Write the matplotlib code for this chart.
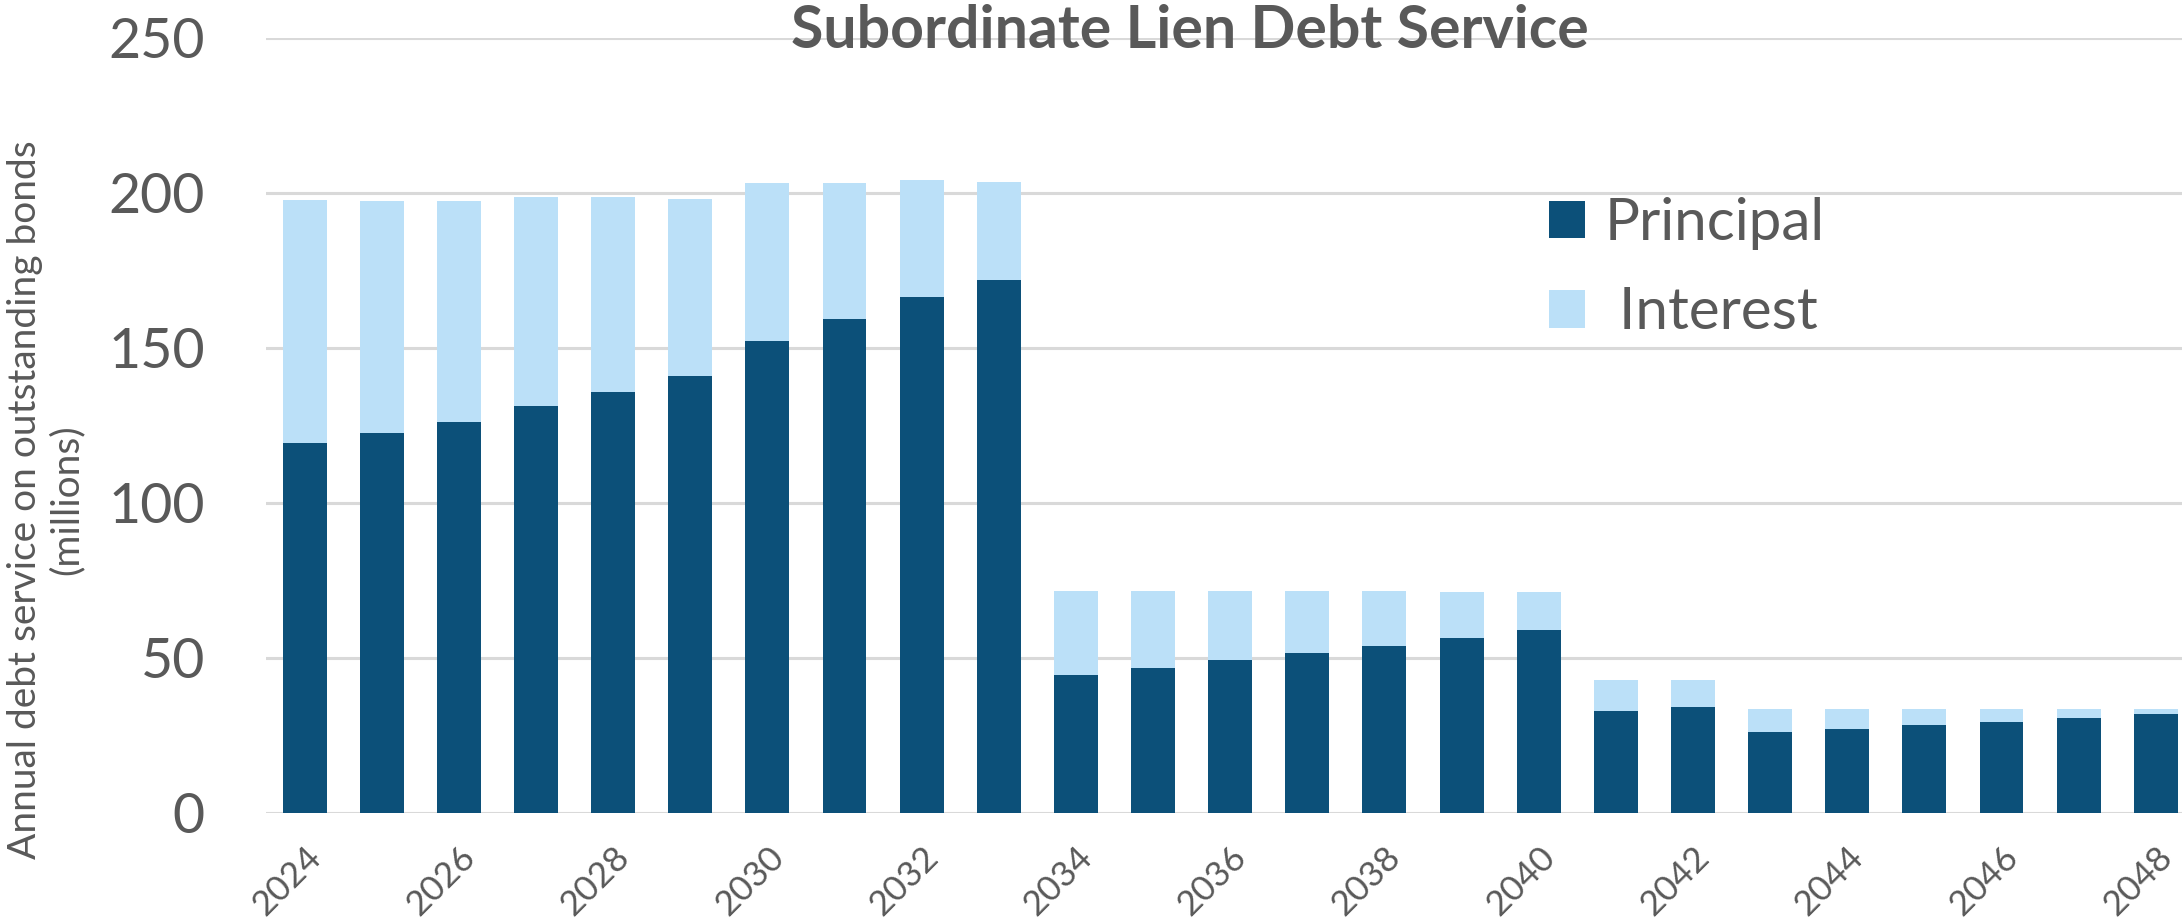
import matplotlib
matplotlib.use("Agg")
import matplotlib.pyplot as plt
import matplotlib.transforms as mtransforms
import numpy as np

# Annual debt service on outstanding subordinate lien bonds ($ millions)
years = list(range(2024, 2049))
principal = [119.4, 122.6, 126.0, 131.3, 135.8, 140.8, 152.1, 159.1, 166.4, 171.9,
             44.5, 46.8, 49.1, 51.5, 53.8, 56.2, 58.9,
             32.8, 34.0, 26.0, 27.0, 28.2, 29.3, 30.6, 31.9]
total = [197.5, 197.4, 197.4, 198.5, 198.5, 198.1, 203.2, 203.0, 204.0, 203.4,
         71.5, 71.5, 71.5, 71.5, 71.5, 71.3, 71.3,
         42.8, 42.8, 33.6, 33.6, 33.4, 33.4, 33.4, 33.4]
interest = [round(t - p, 1) for t, p in zip(total, principal)]

title = "Subordinate Lien Debt Service"
ylabel = "Annual debt service on outstanding bonds\n(millions)"
yticks = [0, 50, 100, 150, 200, 250]

DARK = "#0C5079"
LIGHT = "#BBE0F8"
TEXT = "#595959"
GRID = "#D9D9D9"

plt.rcParams["font.family"] = ["Lato", "DejaVu Sans"]

W, H = 2182, 918
fig = plt.figure(figsize=(W / 100, H / 100), dpi=100)
ax = fig.add_axes([266 / W, 1 - 812.7 / H, 1 - 266 / W, (812.7 - 37.7) / H])

x = np.arange(len(years))
width = 0.57
ax.bar(x, principal, width, color=DARK, label="Principal", zorder=3)
ax.bar(x, interest, width, bottom=principal, color=LIGHT, label=" Interest", zorder=3)

ax.set_ylim(0, 250)
ax.set_xlim(-0.5, 24.34)
ax.set_yticks(yticks)
ax.yaxis.grid(True, color=GRID, linewidth=2.2, zorder=0)
ax.set_axisbelow(True)
for s in ax.spines.values():
    s.set_visible(False)
ax.tick_params(axis="both", length=0)
ax.tick_params(axis="y", labelsize=40, labelcolor=TEXT, pad=44)

ax.set_xticks(x[::2])
ax.set_xticklabels([str(y) for y in years[::2]], fontsize=25.5, color=TEXT)
offset = mtransforms.ScaledTranslation(10 / 100, 0, fig.dpi_scale_trans)
for lab in ax.get_xticklabels():
    lab.set_rotation(45)
    lab.set_rotation_mode("anchor")
    lab.set_ha("right")
    lab.set_va("top")
    lab.set_transform(lab.get_transform() + offset)
ax.tick_params(axis="x", pad=20)

fig.text(1190 / W, 1 - 31 / H, title, ha="center", va="center",
         fontsize=42.5, fontweight="bold", color=TEXT)
fig.text(46 / W, 1 - 500 / H, ylabel, rotation=90, ha="center", va="center",
         multialignment="center", fontsize=28, color=TEXT, linespacing=1.2)

leg = ax.legend(loc="upper left", bbox_to_anchor=(1549 / W, 1 - 197 / H),
                bbox_transform=fig.transFigure, frameon=False, fontsize=42,
                handlelength=0.62, handleheight=0.62, handletextpad=0.33,
                labelspacing=0.62, borderpad=0, borderaxespad=0)
for t in leg.get_texts():
    t.set_color(TEXT)

fig.savefig("out.png", dpi=100, facecolor="white")
